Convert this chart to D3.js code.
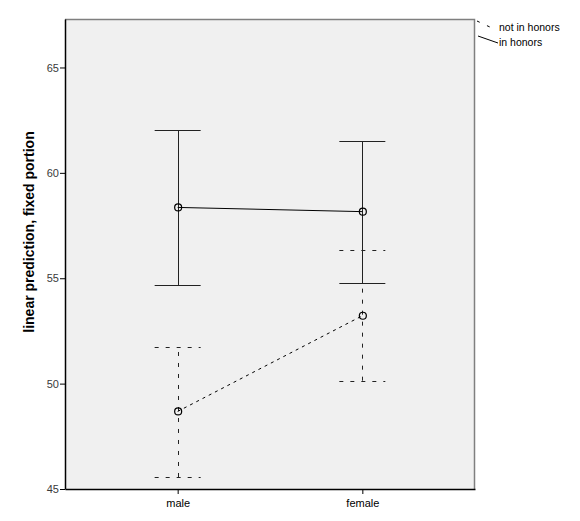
<!DOCTYPE html>
<html><head><meta charset="utf-8">
<script src="https://cdn.jsdelivr.net/npm/d3@7"></script>
<style>body{margin:0;background:#fff}svg{display:block;font-family:Arial,"Liberation Sans",sans-serif}</style>
</head><body><div id="chart"></div>
<script>
const categories = ["male", "female"];
const seriesNames = ["not in honors", "in honors"];
const honorsMean = [58.36, 58.16];
const honorsLower = [54.68, 54.76];
const honorsUpper = [62.02, 61.50];
const notHonorsMean = [48.68, 53.22];
const notHonorsLower = [45.57, 50.14];
const notHonorsUpper = [51.75, 56.32];
const yTicks = [45, 50, 55, 60, 65];

const W = 580, H = 521;
const L = 65, R = 475, T = 19, B = 489;
const svg = d3.select("#chart").append("svg").attr("width", W).attr("height", H);

const y = d3.scaleLinear().domain([45, 67.3]).range([B, T]);
const x = d3.scalePoint().domain(categories).range([L, R]).padding(0.61);

svg.append("rect").attr("x", L).attr("y", T).attr("width", R - L).attr("height", B - T)
  .attr("fill", "#f0f0f0");
// top & right frame (gray)
svg.append("path").attr("d", `M${L},${T+0.5}H${R-0.5}V${B}`).attr("fill", "none")
  .attr("stroke", "#7f7f7f").attr("stroke-width", 1.5);

// axes
const yAxis = d3.axisLeft(y).tickValues(yTicks).tickSize(5).tickSizeOuter(0).tickFormat(d3.format("d"));
const gy = svg.append("g").attr("transform", `translate(${L},0)`).call(yAxis);
gy.select(".domain").attr("stroke", "#000").attr("stroke-width", 1.5);
gy.selectAll(".tick line").attr("stroke", "#000");
gy.selectAll(".tick text").attr("font-size", 11).attr("fill", "#3a3a3a").attr("x", -6)
  .attr("font-family", "Arial, 'Liberation Sans', sans-serif");

const xAxis = d3.axisBottom(x).tickSize(5).tickSizeOuter(0);
const gx = svg.append("g").attr("transform", `translate(0,${B})`).call(xAxis);
gx.select(".domain").attr("stroke", "#000").attr("stroke-width", 1.5);
gx.selectAll(".tick line").attr("stroke", "#000");
gx.selectAll(".tick text").attr("font-size", 11).attr("fill", "#000").attr("dy", "0.9em")
  .attr("font-family", "Arial, 'Liberation Sans', sans-serif");

svg.append("text").attr("transform", `translate(34,232) rotate(-90)`)
  .attr("text-anchor", "middle").attr("font-size", 14).attr("font-weight", "bold")
  .text("linear prediction, fixed portion");

const capW = 23;
function drawSeries(mean, lo, hi, dash, lineDash) {
  const g = svg.append("g");
  const data = categories.map((c, i) => ({c, m: mean[i], lo: lo[i], hi: hi[i]}));
  g.selectAll(".v").data(data).join("line")
    .attr("x1", d => Math.round(x(d.c)) + 0.5).attr("x2", d => Math.round(x(d.c)) + 0.5)
    .attr("y1", d => y(d.lo)).attr("y2", d => y(d.hi))
    .attr("stroke", "#222").attr("stroke-dasharray", dash);
  ["lo", "hi"].forEach(k => {
    g.selectAll(".c" + k).data(data).join("line")
      .attr("x1", d => x(d.c) - capW).attr("x2", d => x(d.c) + capW)
      .attr("y1", d => Math.round(y(d[k])) + 0.5).attr("y2", d => Math.round(y(d[k])) + 0.5)
      .attr("stroke", "#222").attr("stroke-dasharray", dash);
  });
  const line = d3.line().x(d => x(d.c)).y(d => y(d.m));
  g.append("path").datum(data).attr("d", line).attr("fill", "none")
    .attr("stroke", "#000").attr("stroke-dasharray", lineDash);
  g.selectAll("circle").data(data).join("circle")
    .attr("cx", d => x(d.c) + 0.5).attr("cy", d => y(d.m)).attr("r", 3.5)
    .attr("fill", "none").attr("stroke", "#000").attr("stroke-width", 1.2);
}
drawSeries(notHonorsMean, notHonorsLower, notHonorsUpper, "4,7", "3,4");
drawSeries(honorsMean, honorsLower, honorsUpper, null, null);

// legend
const lg = svg.append("g");
lg.append("line").attr("x1", 477).attr("y1", 21).attr("x2", 492).attr("y2", 28)
  .attr("stroke", "#000").attr("stroke-dasharray", "3,8");
lg.append("text").attr("x", 499).attr("y", 31).attr("font-size", 10.5).text(seriesNames[0]);
lg.append("line").attr("x1", 478).attr("y1", 36).attr("x2", 498).attr("y2", 43)
  .attr("stroke", "#000");
lg.append("text").attr("x", 499).attr("y", 46).attr("font-size", 10.5).text(seriesNames[1]);
</script></body></html>
